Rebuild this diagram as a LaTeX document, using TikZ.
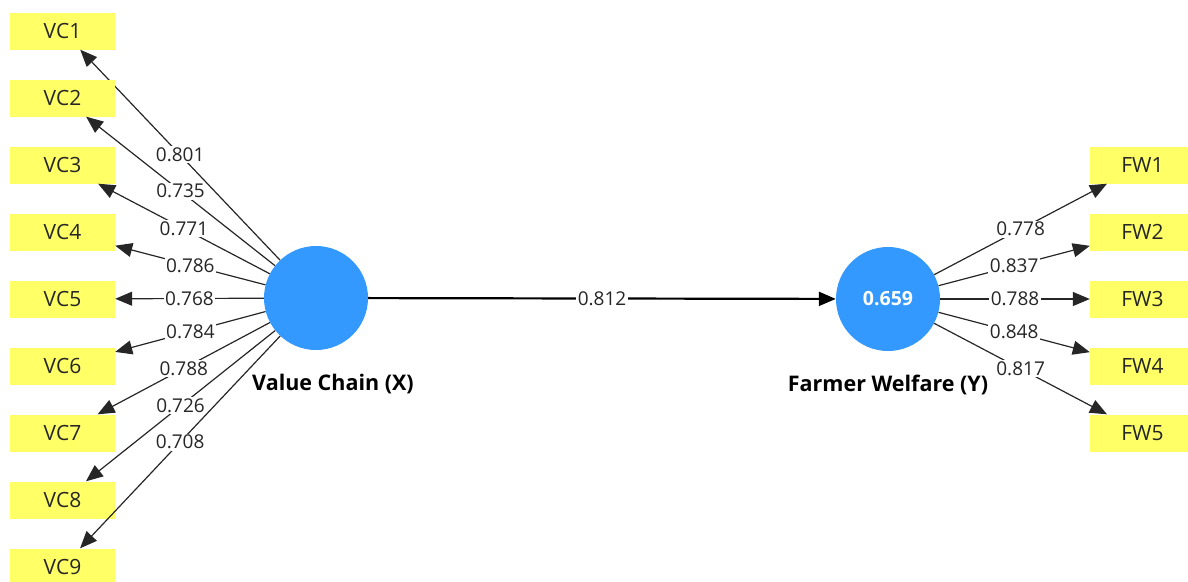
\documentclass[tikz,border=0pt]{standalone}
\usepackage{fontspec}
\setmainfont{Open Sans}
\usetikzlibrary{arrows.meta}
\definecolor{indyellow}{RGB}{255,255,102}
\definecolor{lvblue}{RGB}{51,153,255}

\begin{document}
\begin{tikzpicture}[x=1pt, y=-1pt,
  every node/.style={font=\fontsize{19}{22}\selectfont, text=black!85},
  ind/.style={fill=indyellow, minimum width=105pt, minimum height=37pt, inner sep=0pt, font=\fontsize{21}{24}\selectfont},
  lv/.style={circle, fill=lvblue, minimum size=104pt, inner sep=0pt},
  lvname/.style={font=\bfseries\fontsize{21.5}{24}\selectfont, text=black},
  load/.style={-{Triangle[length=17pt, width=14pt]}, draw=black!85, line width=1.2pt},
  val/.style={fill=white, inner sep=1.5pt}]
\clip (0,0) rectangle (1188,581);
% latent variables
\node[lv] (VC) at (316,298) {};
\node[lv, font=\bfseries\fontsize{19.5}{22}\selectfont, text=white] (FW) at (888,299) {0.659};
\node[lvname] (VCname) at (333,384) {Value Chain (X)};
\node[lvname] (FWname) at (888,385) {Farmer Welfare (Y)};
% indicators of X
\foreach \v [count=\i] in {0.801,0.735,0.771,0.786,0.768,0.784,0.788,0.726,0.708} {
	\node[ind] (vc\i) at (62.5,31+67*\i-67) {VC\i};
	\draw[load] (VC) -- node[val] {\v} (vc\i);
}
% indicators of Y
\foreach \v [count=\i] in {0.778,0.837,0.788,0.848,0.817} {
	\node[ind] (fw\i) at (1142.5,165+67*\i-67) {FW\i};
	\draw[load] (FW) -- node[val] {\v} (fw\i);
}
\draw[-{Triangle[length=17pt, width=14pt]}, line width=2.2pt] (VC) -- node[val] {0.812} (FW);
\end{tikzpicture}
\end{document}
